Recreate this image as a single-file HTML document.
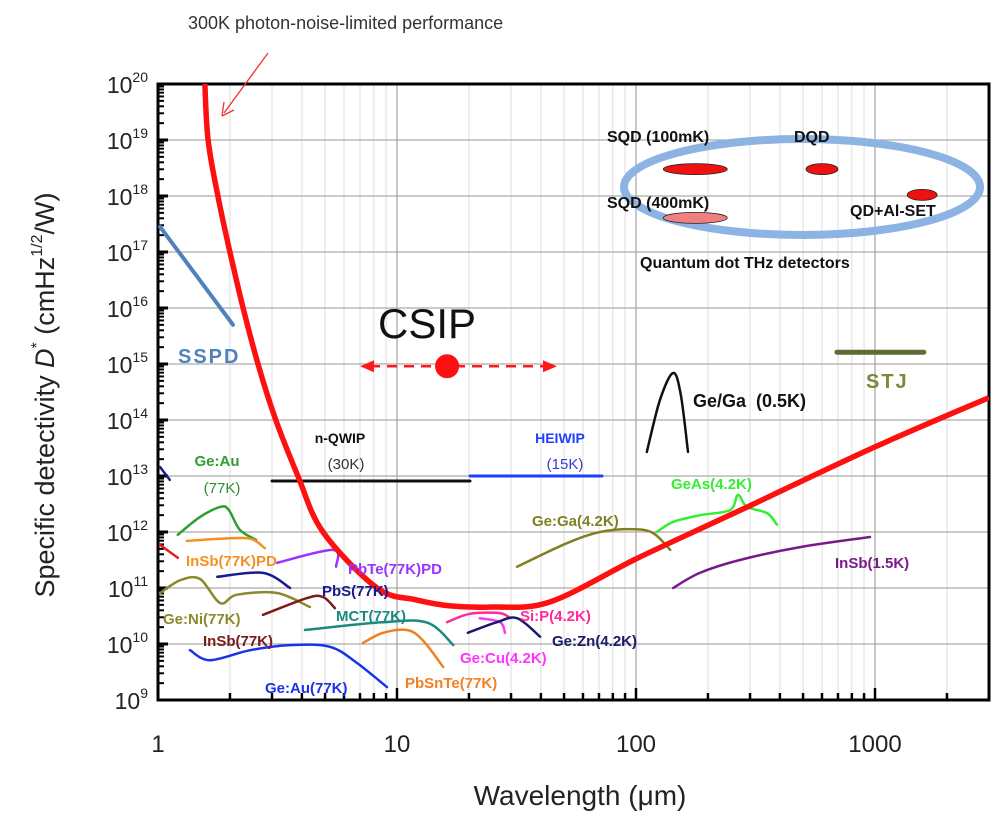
<!DOCTYPE html>
<html><head><meta charset="utf-8"><style>
body{margin:0;background:#fff;width:1000px;height:821px;overflow:hidden}
svg{font-family:"Liberation Sans",Arial,sans-serif}
</style></head><body>
<svg id="c" width="1000" height="821" viewBox="0 0 1000 821"></svg>
<script>
// axis extents
const X0=158, DEC=239, Y0=84, YDEC=56;
const xTicks=[1,10,100,1000];
const yTickExps=[9,10,11,12,13,14,15,16,17,18,19,20];
// BLIP curve: wavelength (um) and log10 D*
const blipL=[1.57,1.62,1.78,2.0,2.27,2.62,3.11,3.85,4.9,8.26,12,16.7,25,43.6,100,200,300,1000,3000];
const blipD=[20,19,18,17,16,15,14,13,12,11,10.79,10.68,10.66,10.75,11.52,12.12,12.47,13.52,14.4];
// detector curves
const seriesNames=['SSPD','n-QWIP','HEIWIP','STJ','Ge/Ga-0.5K','Ge:Au-77K-top','InSb-red','InSb-77K-PD','PbTe-77K-PD','PbS-77K','Ge:Ni-77K','InSb-77K','MCT-77K','Ge:Au-77K','PbSnTe-77K','Si:P-4.2K','Ge:Cu-4.2K','Ge:Zn-4.2K','Ge:Ga-4.2K','GeAs-4.2K','InSb-1.5K','Ge:Au-short'];
const seriesColors=['#4f81bd','#111','#1f3fff','#5a6e34','#111','#2e9e2e','#e02020','#f59020','#9933ff','#1a1a8c','#8a8a2a','#7b1a1a','#1a8a80','#1a33e6','#f08020','#ff2a9a','#ff33ff','#1a1a6c','#808020','#33ee33','#7a1a8a','#1a1a8c'];
const seriesWidths=[4,3,3,5,2.5,2.5,2.5,2.5,2.5,2.5,2.5,2.5,2.5,2.5,2.5,2.5,2.5,2.5,2.5,2.5,2.5,2.5];
const seriesPx=[
 [[160,227],[233,325]],
 [[272,481],[470,481]],
 [[470,476],[602,476]],
 [[837,352],[924,352]],
 [[647,452],[660,400],[673,373],[681,395],[688,452]],
 [[178,535],[200,517],[221,507],[229,510],[240,530],[256,540]],
 [[160,545],[178,558]],
 [[187,541],[220,539],[250,539],[265,548]],
 [[277,563],[333,550],[336,567]],
 [[217,577],[263,573],[290,588]],
 [[160,593],[180,580],[200,579],[220,603],[237,595],[277,593],[310,607]],
 [[263,615],[307,598],[323,597],[335,608]],
 [[305,630],[383,622],[427,623],[453,645]],
 [[190,650],[210,660],[250,650],[290,645],[330,647],[357,663],[387,687]],
 [[363,643],[383,633],[407,630],[423,640],[443,667]],
 [[447,622],[470,614],[500,613],[510,618]],
 [[480,618],[500,622],[505,633]],
 [[468,633],[497,622],[517,618],[540,637]],
 [[517,567],[567,543],[600,532],[633,529],[653,533],[670,550]],
 [[657,532],[673,522],[700,515],[730,510],[738,495],[747,507],[767,513],[777,525]],
 [[673,588],[700,573],[740,560],[800,547],[870,537]],
 [[160,467],[170,480]]
];
const seriesL=seriesPx.map(s=>s.map(p=>+Math.pow(10,(p[0]-X0)/DEC).toPrecision(3)));
const seriesD=seriesPx.map(s=>s.map(p=>+(20-(p[1]-Y0)/YDEC).toFixed(2)));
// quantum dot markers
const qdNames=['sqd-100mk','dqd','qd-al-set','sqd-400mk'];
const qdL=[177,600,1575,177];
const qdD=[18.48,18.48,18.02,17.61];
const csipL=16.2, csipD=14.96;

const xs=l=>X0+DEC*Math.log10(l);
const ys=d=>Y0+YDEC*(20-d);
const svg=document.getElementById('c');
const NS='http://www.w3.org/2000/svg';
function mk(tag,attrs,parent){const e=document.createElementNS(NS,tag);for(const k in attrs)e.setAttribute(k,attrs[k]);(parent||svg).appendChild(e);return e;}
function pathFrom(pts){
 let d='M'+pts[0][0]+','+pts[0][1];
 for(let i=0;i<pts.length-1;i++){const p0=pts[i-1]||pts[i],p1=pts[i],p2=pts[i+1],p3=pts[i+2]||p2;
  const c1=[p1[0]+(p2[0]-p0[0])/6,p1[1]+(p2[1]-p0[1])/6],c2=[p2[0]-(p3[0]-p1[0])/6,p2[1]-(p3[1]-p1[1])/6];
  d+=' C'+c1[0].toFixed(1)+','+c1[1].toFixed(1)+' '+c2[0].toFixed(1)+','+c2[1].toFixed(1)+' '+p2[0].toFixed(1)+','+p2[1].toFixed(1);}
 return d;}
const R=989,B=700;
const g=mk('g',{});


for(let e=0;e<4;e++)for(let m=1;m<10;m++){const l=m*Math.pow(10,e);const x=xs(l);if(x>R)break;
 mk('line',{x1:x,x2:x,y1:Y0,y2:B,stroke:m==1?'#aaa':'#ddd','stroke-width':m==1?1.3:1},g);}
yTickExps.forEach(e=>{mk('line',{x1:X0,x2:R,y1:ys(e),y2:ys(e),stroke:'#aaa','stroke-width':1.3},g);});
const fr=mk('rect',{x:X0,y:Y0,width:R-X0,height:B-Y0,fill:'none',stroke:'#000','stroke-width':3});


yTickExps.forEach(e=>{
 mk('line',{x1:X0,x2:X0+10,y1:ys(e),y2:ys(e),stroke:'#000','stroke-width':3});
 if(e<20)for(let m=2;m<10;m++){const y=ys(e+Math.log10(m));mk('line',{x1:X0,x2:X0+6,y1:y,y2:y,stroke:'#000','stroke-width':2});}
 const t=mk('text',{x:148,y:ys(e)+9,'text-anchor':'end','font-size':23,fill:'#222'});
 
 
 t.innerHTML='10<tspan dy="-11" font-size="14">'+e+'</tspan>';
});
for(let e=0;e<4;e++)for(let m=1;m<10;m++){const x=xs(m*Math.pow(10,e));if(x>R)break;
 mk('line',{x1:x,x2:x,y1:B,y2:B-(m==1?12:7),stroke:'#000','stroke-width':2.5});}
xTicks.forEach(v=>{const t=mk('text',{x:xs(v),y:752,'text-anchor':'middle','font-size':24,fill:'#222'});
 
 
 t.textContent=v;});
seriesPx.forEach((s,i)=>{
 const pts=seriesL[i].map((l,j)=>[xs(l),ys(seriesD[i][j])]);
 const p=mk('path',{d:pathFrom(pts),fill:'none',stroke:seriesColors[i],'stroke-width':seriesWidths[i],'stroke-linecap':'round','stroke-linejoin':'round'});
 
 
});
const clip=mk('clipPath',{id:'cl'});mk('rect',{x:X0,y:Y0,width:R-X0,height:B-Y0},clip);
const bp=mk('path',{d:pathFrom(blipL.map((l,i)=>[xs(l),ys(blipD[i])])),fill:'none',stroke:'#ff1010','stroke-width':5.5,'clip-path':'url(#cl)'});


const qe=mk('ellipse',{cx:802,cy:187,rx:178,ry:48,fill:'none',stroke:'#8db3e2','stroke-width':8});


const qrx=[32,16,15,32];
qdL.forEach((l,i)=>{const e=mk('ellipse',{cx:xs(l),cy:ys(qdD[i]),rx:qrx[i],ry:5.5,fill:i==3?'#f08080':'#ee1111',stroke:'#222','stroke-width':0.8});
 
 });
const cx=xs(csipL),cy=ys(csipD);
const cl=mk('line',{x1:370,x2:545,y1:cy,y2:cy,stroke:'#ff1a1a','stroke-width':2.5,'stroke-dasharray':'10,7'});


mk('path',{d:'M360,'+cy+' l14,-6 v12 z',fill:'#ff1a1a'});
mk('path',{d:'M557,'+cy+' l-14,-6 v12 z',fill:'#ff1a1a'});
const cd=mk('circle',{cx:cx,cy:cy,r:12,fill:'#ff1010'});


mk('line',{x1:268,x2:224,y1:53,y2:113,stroke:'#e33','stroke-width':1.3});
mk('path',{d:'M222,116 l2,-14 M222,116 l12,-6',stroke:'#e33','stroke-width':1.3,fill:'none'});
const labels=[
 ['title-annotation','300K photon-noise-limited performance',188,29,18,'#333','normal','start'],
 ['label-sspd','SSPD',178,363,20,'#4f81bd','bold','start',2],
 ['label-csip','CSIP',378,338,42,'#111','normal','start'],
 ['label-stj','STJ',866,388,20,'#7a8a3a','bold','start',2],
 ['label-gega-05k','Ge/Ga\u00a0\u00a0(0.5K)',693,407,18,'#111','bold','start'],
 ['label-sqd-100mk','SQD (100mK)',607,142,16,'#111','bold','start'],
 ['label-dqd','DQD',794,142,16,'#111','bold','start'],
 ['label-sqd-400mk','SQD (400mK)',607,208,16,'#111','bold','start'],
 ['label-qd-al-set','QD+Al-SET',850,216,16,'#111','bold','start'],
 ['label-quantum-dot','Quantum dot THz detectors',640,268,16,'#111','bold','start'],
 ['label-nqwip','n-QWIP',340,443,14,'#111','bold','middle'],
 ['label-nqwip-temp','(30K)',346,469,15,'#333','normal','middle'],
 ['label-heiwip','HEIWIP',560,443,14,'#1f3fff','bold','middle'],
 ['label-heiwip-temp','(15K)',565,469,15,'#3a3ad0','normal','middle'],
 ['label-geau-top','Ge:Au',217,466,15,'#2e9e2e','bold','middle'],
 ['label-geau-top-temp','(77K)',222,493,15,'#2e8e2e','normal','middle'],
 ['label-insb-77k-pd','InSb(77K)PD',186,566,15,'#f59020','bold','start'],
 ['label-pbte','PbTe(77K)PD',348,574,15,'#9933ff','bold','start'],
 ['label-pbs','PbS(77K)',322,596,15,'#1a1a8c','bold','start'],
 ['label-geni','Ge:Ni(77K)',163,624,15,'#8a8a2a','bold','start'],
 ['label-insb-77k','InSb(77K)',203,646,15,'#7b1a1a','bold','start'],
 ['label-mct','MCT(77K)',336,621,15,'#1a8a80','bold','start'],
 ['label-geau-77k','Ge:Au(77K)',265,693,15,'#1a33e6','bold','start'],
 ['label-pbsnte','PbSnTe(77K)',405,688,15,'#f08020','bold','start'],
 ['label-sip','Si:P(4.2K)',520,621,15,'#ff2a9a','bold','start'],
 ['label-gecu','Ge:Cu(4.2K)',460,663,15,'#ff33ff','bold','start'],
 ['label-gezn','Ge:Zn(4.2K)',552,646,15,'#1a1a6c','bold','start'],
 ['label-gega','Ge:Ga(4.2K)',532,526,15,'#808020','bold','start'],
 ['label-geas','GeAs(4.2K)',671,489,15,'#33ee33','bold','start'],
 ['label-insb-15k','InSb(1.5K)',835,568,15,'#7a1a8a','bold','start']
];
labels.forEach(a=>{const t=mk('text',{x:a[2],y:a[3],'font-size':a[4],fill:a[5],'font-weight':a[6],'text-anchor':a[7],'letter-spacing':a[8]||0});
 
 
 t.textContent=a[1];});
const xt=mk('text',{x:580,y:805,'text-anchor':'middle','font-size':28,fill:'#222'});


xt.textContent='Wavelength (μm)';
const yt=mk('text',{x:0,y:0,'text-anchor':'middle','font-size':27,fill:'#222',transform:'translate(54,395) rotate(-90)'});


yt.innerHTML='Specific detectivity <tspan font-style="italic">D</tspan><tspan dy="-12" font-size="16">*</tspan><tspan dy="12"> (cmHz</tspan><tspan dy="-12" font-size="16">1/2</tspan><tspan dy="12">/W)</tspan>';
</script>
</body></html>
